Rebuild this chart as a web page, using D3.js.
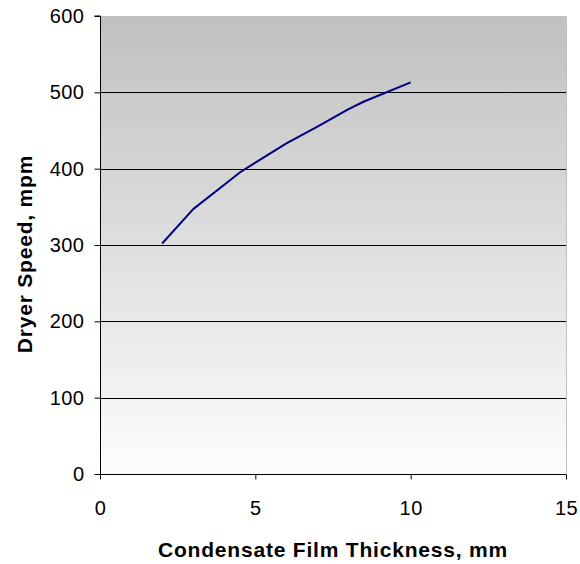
<!DOCTYPE html>
<html>
<head>
<meta charset="utf-8">
<script src="https://cdn.jsdelivr.net/npm/d3@7"></script>
<style>
  html, body { margin: 0; padding: 0; background: #fff; }
  svg { display: block; font-family: "Liberation Sans", Arial, sans-serif; }
</style>
</head>
<body>
<svg id="chart" width="580" height="564"></svg>
<script>
// Condensate film thickness (mm) vs dryer speed (mpm)
const thickness = [2, 3, 4, 4.5, 5, 6, 7, 8, 8.5, 10];
const speed = [302, 347, 379, 395, 408, 433, 455, 478, 488, 513];
const xTicks = [0, 5, 10, 15];
const yTicks = [0, 100, 200, 300, 400, 500, 600];

const svg = d3.select("#chart");
const plotLeft = 100, plotRight = 566, plotTop = 16, plotBottom = 474;

const x = d3.scaleLinear().domain([0, 15]).range([plotLeft, plotRight]);
const y = d3.scaleLinear().domain([0, 600]).range([plotBottom, plotTop]);

// Plot area background: grey fading to white
const defs = svg.append("defs");
const grad = defs.append("linearGradient")
  .attr("id", "bg").attr("x1", 0).attr("y1", 0).attr("x2", 0).attr("y2", 1);
grad.append("stop").attr("offset", "0%").attr("stop-color", "#c0c0c0");
grad.append("stop").attr("offset", "100%").attr("stop-color", "#fdfdfd");

svg.append("rect")
  .attr("x", plotLeft).attr("y", plotTop)
  .attr("width", plotRight - plotLeft).attr("height", plotBottom - plotTop)
  .attr("fill", "url(#bg)");

// Right border of plot area
svg.append("line")
  .attr("x1", plotRight + 0.5).attr("x2", plotRight + 0.5)
  .attr("y1", plotTop).attr("y2", plotBottom)
  .attr("stroke", "#c0c0c0").attr("stroke-width", 1);

// Horizontal gridlines
svg.append("g")
  .selectAll("line")
  .data(yTicks.filter(d => d > 0 && d < 600))
  .join("line")
  .attr("x1", plotLeft).attr("x2", plotRight)
  .attr("y1", d => Math.round(y(d)) + 0.5).attr("y2", d => Math.round(y(d)) + 0.5)
  .attr("stroke", "#000").attr("stroke-width", 1);

// Y axis
const yAxis = svg.append("g")
  .attr("transform", `translate(${plotLeft + 0.5},0)`)
  .call(d3.axisLeft(y).tickValues(yTicks).tickSize(6).tickPadding(10).tickFormat(d3.format("d")));
yAxis.select(".domain").attr("stroke", "#000").attr("d", `M-6,${plotTop}H0V${plotBottom}`);
yAxis.selectAll(".tick line").attr("stroke", "#000");
yAxis.selectAll("text").attr("font-size", 20).attr("letter-spacing", 0.5).attr("fill", "#000");

// X axis
const xAxis = svg.append("g")
  .attr("transform", `translate(0,${plotBottom + 0.5})`)
  .call(d3.axisBottom(x).tickValues(xTicks).tickSize(5).tickPadding(21).tickFormat(d3.format("d")));
xAxis.select(".domain").attr("stroke", "#000").attr("d", `M${plotLeft},0H${plotRight}`);
xAxis.selectAll(".tick line").attr("stroke", "#000");
xAxis.selectAll("text").attr("font-size", 20).attr("letter-spacing", 0.5).attr("fill", "#000");

// Data line
svg.append("path")
  .datum(thickness.map((t, i) => [t, speed[i]]))
  .attr("fill", "none")
  .attr("stroke", "#000080")
  .attr("stroke-width", 2)
  .attr("stroke-linejoin", "round")
  .attr("d", d3.line().x(d => x(d[0])).y(d => y(d[1])));

// Axis titles
svg.append("text")
  .attr("x", 333).attr("y", 557)
  .attr("text-anchor", "middle")
  .attr("font-size", 21).attr("font-weight", "bold").attr("letter-spacing", 0.8)
  .text("Condensate Film Thickness, mm");

svg.append("text")
  .attr("transform", "translate(32,254) rotate(-90)")
  .attr("text-anchor", "middle")
  .attr("font-size", 21).attr("font-weight", "bold").attr("letter-spacing", 0.8)
  .text("Dryer Speed, mpm");
</script>
</body>
</html>
